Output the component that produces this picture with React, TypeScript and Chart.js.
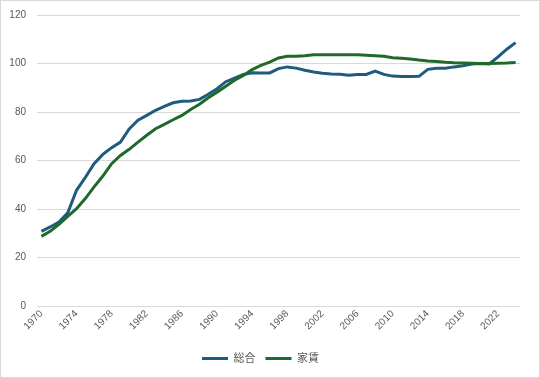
import React, { useEffect, useRef } from "react";
import { Chart, registerables } from "chart.js";

Chart.register(...registerables);

const years: string[] = [];
for (let y = 1970; y <= 2024; y++) years.push(String(y));

const seriesNames = ["総合", "家賃"];

const sogo = [
  30.8, 32.6, 34.6, 38.4, 47.7, 53.0, 58.7, 62.5, 65.3, 67.6,
  73.0, 76.6, 78.6, 80.7, 82.3, 83.8, 84.4, 84.5, 85.2, 87.3,
  89.6, 92.5, 94.0, 95.5, 96.2, 96.1, 96.1, 97.9, 98.6, 98.1,
  97.2, 96.5, 96.0, 95.7, 95.6, 95.2, 95.5, 95.5, 96.9, 95.5,
  94.8, 94.6, 94.6, 94.7, 97.6, 98.0, 98.0, 98.6, 99.1, 99.8,
  100.0, 99.8, 102.7, 105.9, 108.6,
];

const yachin = [
  28.7, 30.8, 33.7, 37.0, 40.1, 44.3, 49.1, 53.6, 58.7, 62.1,
  64.6, 67.6, 70.4, 73.1, 74.9, 76.8, 78.6, 81.0, 83.2, 85.9,
  88.2, 90.6, 93.1, 95.1, 97.5, 99.2, 100.6, 102.3, 103.0, 103.0,
  103.2, 103.6, 103.6, 103.6, 103.6, 103.6, 103.6, 103.4, 103.2, 103.0,
  102.4, 102.2, 101.9, 101.4, 101.0, 100.8, 100.5, 100.3, 100.2, 100.1,
  100.0, 100.0, 100.1, 100.2, 100.4,
];

const yTicks = { min: 0, max: 120, step: 20 };

const BLUE = "#1f5b7e";
const GREEN = "#1f6a2a";
const FONT = '"Liberation Sans", "Noto Sans CJK JP", sans-serif';

export default function App() {
  const ref = useRef<HTMLCanvasElement | null>(null);

  useEffect(() => {
    document.body.style.margin = "0";
    const canvas = ref.current;
    if (!canvas) return;
    const chart = new Chart(canvas, {
      type: "line",
      data: {
        labels: years,
        datasets: [
          {
            label: seriesNames[0],
            data: sogo,
            borderColor: BLUE,
            backgroundColor: BLUE,
            borderWidth: 3,
            pointRadius: 0,
            pointStyle: "line",
            tension: 0,
            order: 1,
          },
          {
            label: seriesNames[1],
            data: yachin,
            borderColor: GREEN,
            backgroundColor: GREEN,
            borderWidth: 3,
            pointRadius: 0,
            pointStyle: "line",
            tension: 0,
            order: 0,
          },
        ],
      },
      options: {
        animation: false,
        responsive: false,
        maintainAspectRatio: false,
        layout: { padding: { top: 14, right: 19, bottom: 3, left: 0 } },
        plugins: {
          tooltip: { enabled: false },
          legend: {
            position: "bottom",
            labels: {
              usePointStyle: true,
              pointStyleWidth: 26,
              boxHeight: 10,
              padding: 10,
              color: "#595959",
              font: { family: FONT, size: 11 },
              sort: (a: any, b: any) => a.datasetIndex - b.datasetIndex,
            },
          },
        },
        scales: {
          x: {
            type: "category",
            offset: true,
            grid: { display: false, drawTicks: false },
            border: { display: false },
            afterFit: (s: any) => {
              s.height = 37;
            },
            ticks: {
              autoSkip: false,
              minRotation: 45,
              maxRotation: 45,
              padding: 2,
              color: "#595959",
              font: { family: FONT, size: 10 },
              callback: function (this: any, value: any, index: number) {
                return index % 4 === 0 ? this.getLabelForValue(value) : "";
              },
            },
          },
          y: {
            min: yTicks.min,
            max: yTicks.max,
            grid: { color: "#d9d9d9", lineWidth: 1, drawTicks: false },
            border: { display: false },
            afterFit: (s: any) => {
              s.width = 36;
              s.paddingTop = 0;
              s.paddingBottom = 0;
            },
            ticks: {
              stepSize: yTicks.step,
              padding: 11,
              color: "#595959",
              font: { family: FONT, size: 10 },
            },
          },
        },
      },
    });
    return () => chart.destroy();
  }, []);

  return (
    <div
      style={{
        width: 540,
        height: 378,
        boxSizing: "border-box",
        border: "1px solid #d9d9d9",
        background: "#fff",
      }}
    >
      <canvas ref={ref} width={538} height={376} style={{ display: "block" }} />
    </div>
  );
}
